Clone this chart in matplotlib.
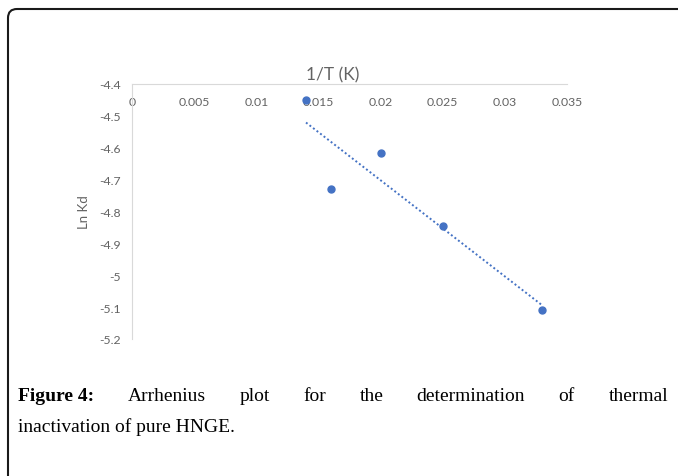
import numpy as np
import matplotlib
matplotlib.use('Agg')
import matplotlib.pyplot as plt
from matplotlib.patches import FancyBboxPatch
from matplotlib.transforms import IdentityTransform

# data
inv_T = [0.014, 0.016, 0.020, 0.025, 0.033]
ln_kd = [-4.45, -4.728, -4.6175, -4.8465, -5.109]
x_ticks = [0, 0.005, 0.01, 0.015, 0.02, 0.025, 0.03, 0.035]
x_ticklabels = ['0', '0.005', '0.01', '0.015', '0.02', '0.025', '0.03', '0.035']
y_ticks = [-4.4, -4.5, -4.6, -4.7, -4.8, -4.9, -5, -5.1, -5.2]
y_ticklabels = ['-4.4', '-4.5', '-4.6', '-4.7', '-4.8', '-4.9', '-5', '-5.1', '-5.2']
caption_words = ['Arrhenius', 'plot', 'for', 'the', 'determination', 'of', 'thermal']
caption_line2 = 'inactivation of pure HNGE.'

W, H = 678, 477
fig = plt.figure(figsize=(W/100, H/100), dpi=100)
fig.patch.set_facecolor('white')

# page frame (top + left edges with rounded corner), pixel coords
frame = FancyBboxPatch((8, -100), 900, H - 10 + 100,
                       boxstyle='round,pad=0,rounding_size=9',
                       transform=IdentityTransform(), fill=False,
                       edgecolor='#1a1a1a', linewidth=1.5, clip_on=False)
fig.patches.append(frame)

ax = fig.add_axes([132/W, 1-340/H, 435/W, 255/H])
grey = '#636363'
blue = '#4472C4'

ax.plot(inv_T, ln_kd, 'o', color=blue, markersize=5, zorder=3)
p = np.polyfit(inv_T, ln_kd, 1)
xf = np.array([min(inv_T), max(inv_T)])
ax.plot(xf, np.polyval(p, xf), color=blue, linewidth=1.4,
        linestyle=(0, (1, 1.3)), zorder=2)

ax.set_xlim(0, 0.035)
ax.set_ylim(-5.2, -4.4)
ax.set_xticks(x_ticks)
ax.set_xticklabels(x_ticklabels)
ax.set_yticks(y_ticks)
ax.set_yticklabels(y_ticklabels)

for s in ['top', 'right']:
    ax.spines[s].set_visible(False)
ax.spines['bottom'].set_position(('data', -4.4))
ax.spines['bottom'].set_color('#d9d9d9')
ax.spines['left'].set_color('#d9d9d9')
ax.tick_params(axis='both', length=0, labelsize=8.8, labelcolor=grey)
ax.tick_params(axis='x', pad=9)
ax.tick_params(axis='y', pad=8)
for lab in ax.get_xticklabels() + ax.get_yticklabels():
    lab.set_fontfamily('Lato')

ax.text(0.462, 1.008, '1/T (K)', transform=ax.transAxes, ha='center', va='bottom',
        fontsize=12.5, color=grey, family='Lato')
ax.set_ylabel('Ln Kd', fontsize=9.5, color=grey, family='Lato', labelpad=7)

# caption, first line justified
serif = 'Liberation Serif'
fs = 14
y1 = 1 - 397/H
y2 = 1 - 427/H
fig.canvas.draw()
r = fig.canvas.get_renderer()
t0 = fig.text(18/W, y1, 'Figure 4:', fontsize=fs, fontweight='bold', family=serif,
              va='center', ha='left', color='black')
texts = [t0]
for w in caption_words:
    texts.append(fig.text(0, y1, w, fontsize=fs, family=serif, va='center',
                          ha='left', color='black'))
widths = [t.get_window_extent(renderer=r).width for t in texts]
gap = (668 - 18 - sum(widths)) / (len(texts) - 1)
xpos = 18
for t, wd in zip(texts, widths):
    t.set_x(xpos / W)
    xpos += wd + gap
fig.text(18/W, y2, caption_line2, fontsize=fs, family=serif, va='center',
         ha='left', color='black')

fig.savefig('out.png', dpi=100)
